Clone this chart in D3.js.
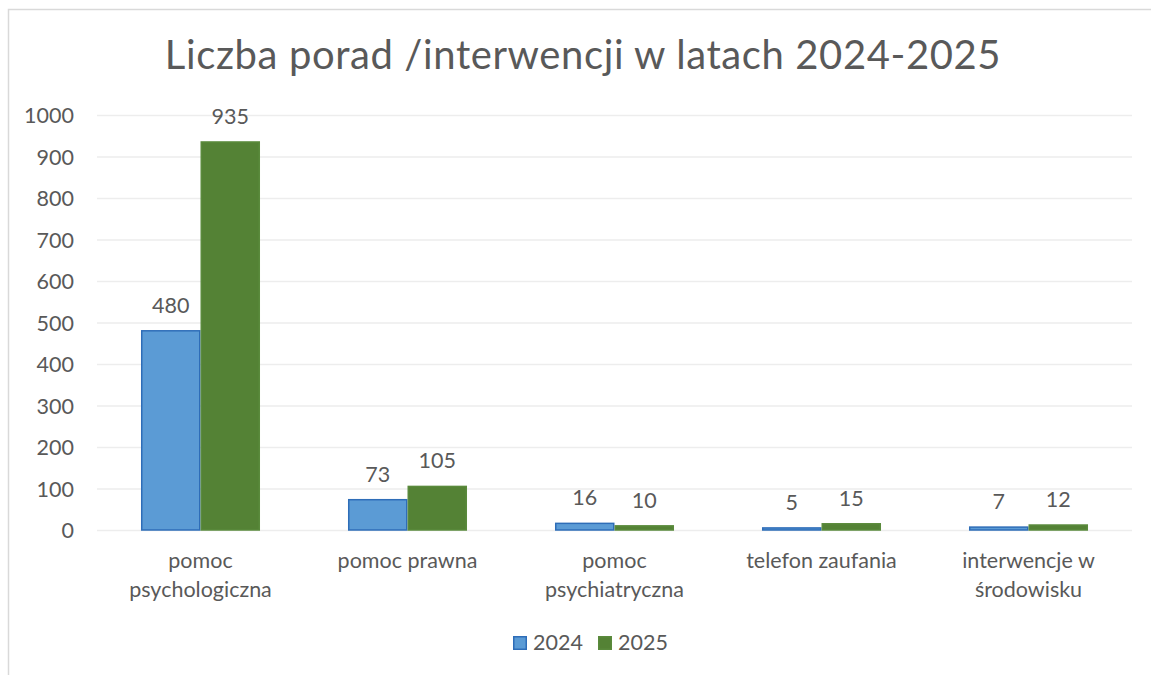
<!DOCTYPE html>
<html><head><meta charset="utf-8">
<script src="https://cdn.jsdelivr.net/npm/d3@7"></script>
<style>
body{margin:0;background:#fff;}
svg text{font-family:Lato,"Open Sans",sans-serif;fill:#595959;}
</style></head>
<body><svg id="c" width="1151" height="675"></svg>
<script>
const title = "Liczba porad /interwencji w latach 2024-2025";
const categories = [["pomoc","psychologiczna"],["pomoc prawna"],["pomoc","psychiatryczna"],["telefon zaufania"],["interwencje w","środowisku"]];
const seriesNames = ["2024","2025"];
const values2024 = [480,73,16,5,7];
const values2025 = [935,105,10,15,12];
const yTicks = [0,100,200,300,400,500,600,700,800,900,1000];
const colors = ["#5B9BD5","#548235"];
const strokes = ["#2E6DB8","#5A8A3C"];

(function(){
const FS = 21.5;
const svg = d3.select("#c");
svg.append("rect").attr("x",8.5).attr("y",9.5).attr("width",1160).attr("height",680)
  .attr("fill","#fff").attr("stroke","#D9D9D9").attr("stroke-width",1.5);

const pLeft=97,pRight=1132,pTop=115,pBottom=530;
const catKeys = categories.map(c=>c.join(" "));
const x0 = d3.scaleBand().domain(catKeys).range([pLeft,pRight]).paddingInner(0.425).paddingOuter(0.2125);
const x1 = d3.scaleBand().domain(seriesNames).range([0,x0.bandwidth()]);
const y = d3.scaleLinear().domain([0,1000]).range([pBottom,pTop]);

svg.append("g").selectAll("line").data(yTicks).join("line")
  .attr("x1",pLeft).attr("x2",pRight).attr("y1",d=>y(d)+0.5).attr("y2",d=>y(d)+0.5)
  .attr("stroke","#EDEDED").attr("stroke-width",1.5);

const yAxis = d3.axisLeft(y).tickValues(yTicks).tickFormat(d3.format("d")).tickSize(0).tickPadding(0);
const yg = svg.append("g").attr("transform",`translate(${74},0)`).call(yAxis);
yg.select(".domain").remove();
yg.selectAll("text").attr("font-size",FS).style("font-family","Lato,sans-serif").attr("fill","#595959").attr("dy","0.36em");

const data = catKeys.map((k,i)=>({k, vals:[values2024[i],values2025[i]]}));
const g = svg.append("g");
data.forEach(d=>{
  d.vals.forEach((v,j)=>{
    const s = seriesNames[j];
    g.append("rect").attr("x",x0(d.k)+x1(s)+0.75).attr("y",y(v)).attr("width",x1.bandwidth()-1.5)
      .attr("height",pBottom-y(v)).attr("fill",colors[j]).attr("stroke",strokes[j]).attr("stroke-width",1.5);
    g.append("text").attr("x",x0(d.k)+x1(s)+x1.bandwidth()/2).attr("y",y(v)-18)
      .attr("text-anchor","middle").attr("font-size",FS).text(v);
  });
});

categories.forEach((c,i)=>{
  const cx = x0(catKeys[i])+x0.bandwidth()/2;
  c.forEach((line,li)=>{
    svg.append("text").attr("x",cx).attr("y",568+li*29).attr("text-anchor","middle")
      .attr("font-size",FS).text(line);
  });
});

svg.append("text").attr("x",583).attr("y",69).attr("text-anchor","middle")
  .attr("font-size",40).attr("letter-spacing",0.6).text(title);

const lg = svg.append("g");
const legX = [513,598];
seriesNames.forEach((s,j)=>{
  lg.append("rect").attr("x",legX[j]+0.75).attr("y",636.75).attr("width",12.5).attr("height",12.5)
    .attr("fill",colors[j]).attr("stroke",strokes[j]).attr("stroke-width",1.5);
  lg.append("text").attr("x",legX[j]+20).attr("y",650).attr("font-size",FS).text(s);
});
})();
</script></body></html>
